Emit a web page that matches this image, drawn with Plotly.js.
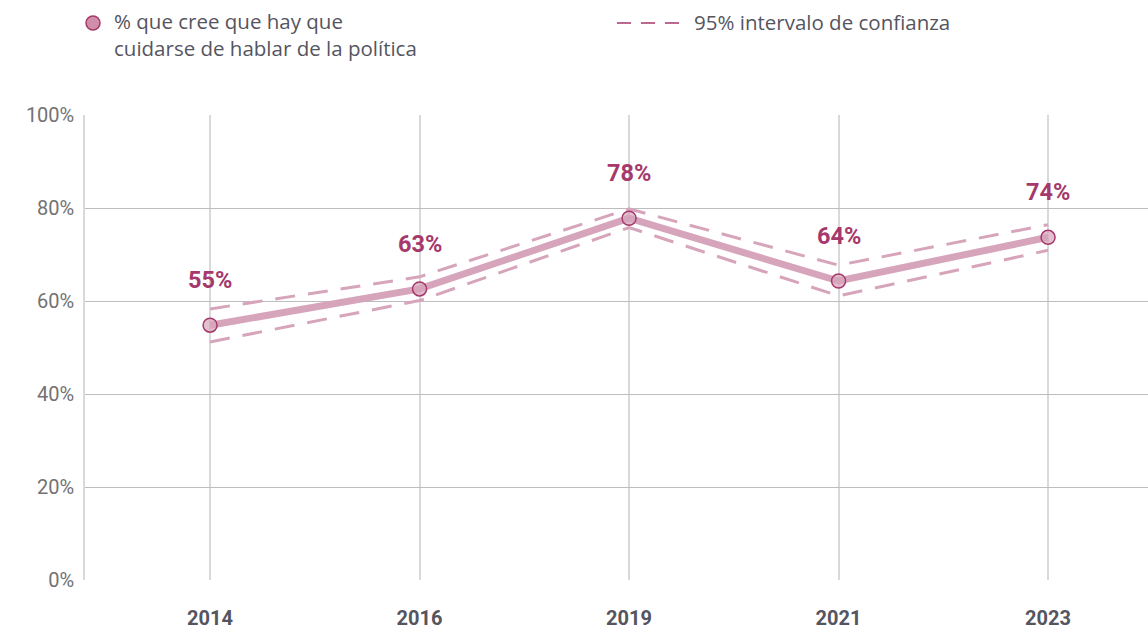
<!DOCTYPE html>
<html>
<head>
<meta charset="utf-8">
<script src="https://cdn.plot.ly/plotly-3.0.1.min.js"></script>
<style>
  html, body { margin: 0; padding: 0; background: #fff; }
  #chart { width: 1148px; height: 629px; }
</style>
</head>
<body>
<div id="chart"></div>
<script>
// Data
const years = ['2014', '2016', '2019', '2021', '2023'];
const share = [54.8, 62.6, 77.8, 64.3, 73.7];
const ciUpper = [58.3, 65.2, 79.8, 67.7, 76.4];
const ciLower = [51.2, 60.1, 75.8, 61.1, 70.9];
const labels = ['55%', '63%', '78%', '64%', '74%'];
const yTicks = [0, 20, 40, 60, 80, 100];
const yTickText = ['0%', '20%', '40%', '60%', '80%', '100%'];
const legendMain = '% que cree que hay que<br>cuidarse de hablar de la política';
const legendCI = '95% intervalo de confianza';

const dark = '#a6386b';
const light = '#d6a5bb';
const textGrey = '#55555f';

// plot area in pixels, used to place the hand-made legend
const M = {l: 85, r: 0, t: 115, b: 49};
const W = 1148, H = 629;
const px = x => (x - M.l) / (W - M.l - M.r);
const py = y => (H - M.b - y) / (H - M.t - M.b);

const traceUpper = {
    x: years, y: ciUpper, mode: 'lines', showlegend: false, hoverinfo: 'skip',
    line: {color: light, width: 3, dash: '20px,13px'}
};
const traceLower = {
    x: years, y: ciLower, mode: 'lines', showlegend: false, hoverinfo: 'skip',
    line: {color: light, width: 3, dash: '20px,13px'}
};
const traceMain = {
    x: years, y: share, mode: 'lines+markers', showlegend: false,
    line: {color: light, width: 7},
    marker: {size: 14, color: 'rgba(214,165,187,0.7)', line: {color: dark, width: 1.5}}
};

// value labels above points (x as category index)
const annotations = years.map((yr, i) => ({
    xref: 'x', yref: 'y', x: i, y: share[i], text: '<b>' + labels[i] + '</b>',
    showarrow: false, yshift: 45,
    font: {family: 'Roboto', size: 23.5, color: dark}
}));

// legend texts
annotations.push({
    xref: 'paper', yref: 'paper', x: px(112), y: py(35), xanchor: 'left', yanchor: 'middle',
    text: legendMain, showarrow: false, align: 'left',
    font: {family: 'Open Sans', size: 20.5, color: textGrey}
});
annotations.push({
    xref: 'paper', yref: 'paper', x: px(692), y: py(22), xanchor: 'left', yanchor: 'middle',
    text: legendCI, showarrow: false, align: 'left',
    font: {family: 'Open Sans', size: 20.5, color: textGrey}
});

const shapes = [
    {type: 'circle', xref: 'paper', yref: 'paper',
     x0: px(86), x1: px(100), y0: py(30), y1: py(16),
     fillcolor: '#cf8fab', line: {color: dark, width: 1.5}},
    {type: 'line', xref: 'paper', yref: 'paper',
     x0: px(617), x1: px(679), y0: py(23), y1: py(23),
     line: {color: dark, width: 1.5, dash: '14px,10px'}}
];

const layout = {
    width: W, height: H,
    margin: M,
    paper_bgcolor: '#fff', plot_bgcolor: '#fff',
    showlegend: false,
    xaxis: {
        type: 'category', range: [-0.597, 4.477],
        showgrid: true, gridcolor: '#d9d9d9', gridwidth: 1.5,
        showline: false, zeroline: false, ticks: '',
        ticklabelstandoff: 24,
        tickfont: {family: 'Roboto', size: 20, color: textGrey, weight: 'bold'}
    },
    yaxis: {
        range: [0, 100], tickvals: yTicks, ticktext: yTickText,
        showgrid: true, gridcolor: '#bdbdbd', gridwidth: 1,
        showline: true, linecolor: '#d9d9d9', linewidth: 1.5,
        zeroline: false, ticks: '', ticklabelstandoff: 5,
        tickfont: {family: 'Roboto', size: 20, color: '#727272'}
    },
    annotations: annotations,
    shapes: shapes
};

Plotly.newPlot('chart', [traceUpper, traceLower, traceMain], layout, {displayModeBar: false});
</script>
</body>
</html>
